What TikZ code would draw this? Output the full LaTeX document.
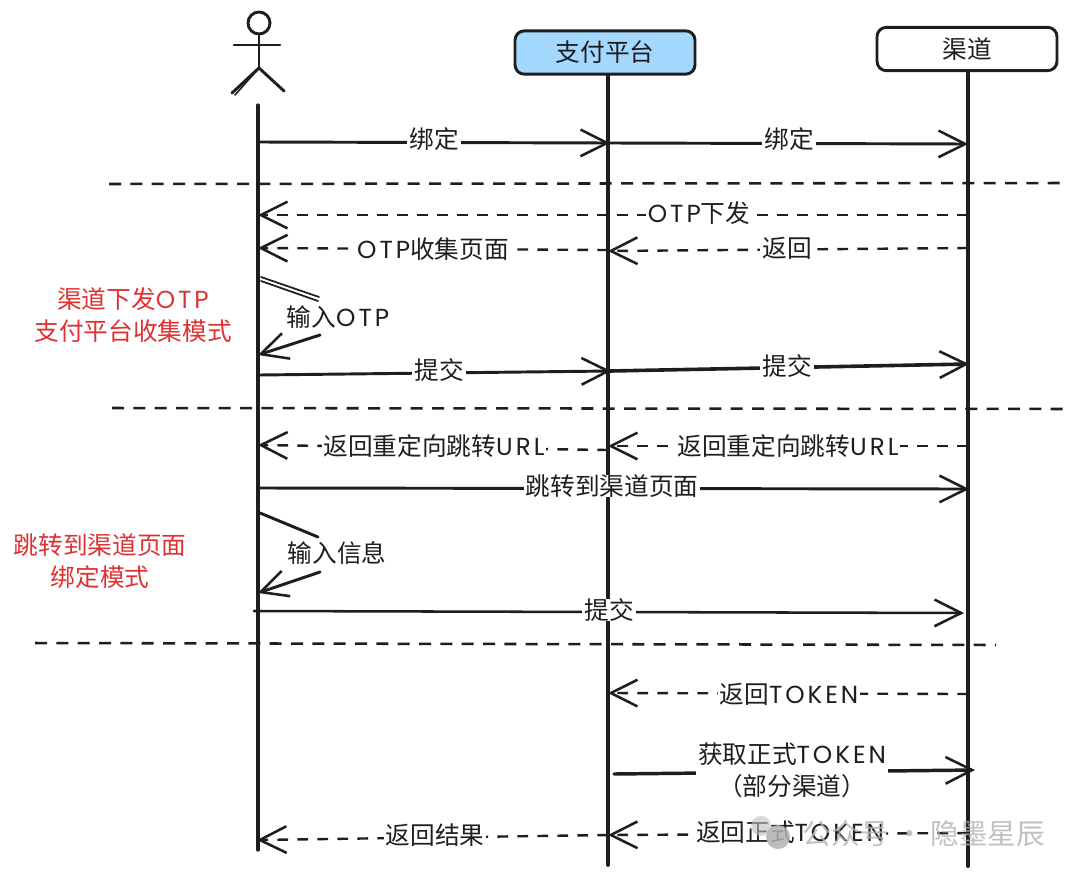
\documentclass[tikz,border=0pt]{standalone}
\usepackage{fontspec}
\setmainfont{Noto Sans CJK SC}
\newfontfamily\lat[LetterSpace=12]{Poppins}
\usetikzlibrary{arrows.meta}
\newcommand{\hw}[1]{{\lat #1}}
\definecolor{ink}{HTML}{1E1E1E}
\definecolor{redlab}{HTML}{E03131}
\definecolor{paybox}{HTML}{A5D8FF}
\tikzset{
  x=0.75pt,y=-0.75pt,
  every node/.style={font=\fontsize{18.5}{24}\selectfont,text=ink,inner sep=0pt,align=center},
  sk/.style={draw=ink,line width=2.2pt,line cap=round,line join=round},
  life/.style={sk,line width=2.8pt},
  barb/.style={-{Straight Barb[length=20pt,width=20pt,line width=1.9pt]}},
  msg/.style={sk,barb},
  ret/.style={sk,barb,line width=1.8pt,dash pattern=on 8pt off 7pt,line cap=butt},
  sep/.style={draw=ink,line width=1.9pt,dash pattern=on 9pt off 7pt},
  lab/.style={fill=white,inner xsep=1.5pt,inner ysep=0pt},
  actorbox/.style={draw=ink,line width=2.2pt,rounded corners=7pt,minimum width=135pt,minimum height=32.5pt},
  note/.style={text=redlab},
  wmtext/.style={text=black!30,font=\fontsize{21.5}{24}\selectfont},
}
\begin{document}
\begin{tikzpicture}
\useasboundingbox (0,0) rectangle (1080,878);
\fill[white] (0,0) rectangle (1080,878);

% separators
\coordinate (s1a) at (109,184); \coordinate (s1b) at (1064,183);
\coordinate (s2a) at (112,408); \coordinate (s2b) at (1071,409);
\coordinate (s3a) at (35,643);  \coordinate (s3b) at (996,645);
\draw[sep] (s1a) -- (s1b);
\draw[sep] (s2a) -- (s2b);
\draw[sep] (s3a) -- (s3b);

% actor
\node[circle,draw=ink,line width=2.2pt,minimum size=16.5pt] (head) at (259,23) {};
\coordinate (hip) at (259,68);
\coordinate (armL) at (234,45); \coordinate (armR) at (280,45);
\coordinate (legL) at (232,93); \coordinate (legLb) at (235,95); \coordinate (legR) at (284,91);
\draw[sk] (head.south) -- (hip);
\draw[sk] (armL) -- (armR);
\draw[sk] (legL) -- (hip) -- (legR);
\draw[sk,line width=1.2pt] (legLb) -- (hip);

% participants
\node[actorbox,fill=paybox] (pay) at (605,52.5) {支付平台};
\node[actorbox,fill=white] (chan) at (967,49) {渠道};

% lifelines
\coordinate (uT) at (258,105); \coordinate (uB) at (258,850);
\coordinate (pB) at (608,865);
\coordinate (cM) at (968,268); \coordinate (cB) at (968,866);
\draw[life,line width=2.4pt] (uT) -- (uB);
\draw[life] (pay.south -| pB) -- (pB);
\draw[life,line width=3.4pt] (chan.south -| cB) -- (cM);
\draw[life,line width=3pt] (cM) -- (cB);

% message endpoints
\coordinate (a1) at (258,142); \coordinate (b1) at (610,143);
\coordinate (a2) at (610,143); \coordinate (b2) at (968,144);
\coordinate (a3) at (968,215); \coordinate (b3) at (258,215);
\coordinate (a4) at (608,250); \coordinate (b4) at (258,248);
\coordinate (a5) at (968,248); \coordinate (b5) at (608,251);
\coordinate (a6) at (259,375); \coordinate (b6) at (611,371);
\coordinate (a7) at (610,371); \coordinate (b7) at (969,364);
\coordinate (a8) at (608,450); \coordinate (b8) at (258,445);
\coordinate (a9) at (968,446); \coordinate (b9) at (608,446);
\coordinate (a10) at (258,488); \coordinate (b10) at (969,489);
\coordinate (a11) at (254,611); \coordinate (b11) at (964,613);
\coordinate (a12) at (968,694); \coordinate (b12) at (608,693);
\coordinate (a13) at (614,774); \coordinate (b13) at (975,770);
\coordinate (a14) at (968,833); \coordinate (b14) at (608,835);
\coordinate (a15) at (608,835); \coordinate (b15) at (257,840);

\draw[msg,line width=2.2pt] (a1) -- (b1);
\draw[msg] (a2) -- (b2);
\draw[ret] (a3) -- (b3);
\draw[ret] (a4) -- (b4);
\draw[ret] (a5) -- (b5);
\draw[msg] (a6) -- (b6);
\draw[msg,line width=2.7pt] (a7) -- (b7);
\draw[ret] (a8) -- (b8);
\draw[ret] (a9) -- (b9);
\draw[msg] (a10) -- (b10);
\draw[msg,line width=1.9pt] (a11) -- (b11);
\draw[ret] (a12) -- (b12);
\draw[msg,line width=2.6pt] (a13) -- (b13);
\draw[ret] (a14) -- (b14);
\draw[ret] (a15) -- (b15);

% self messages
\coordinate (o1) at (261,277); \coordinate (o1b) at (261,281);
\coordinate (o2) at (319,297); \coordinate (o2b) at (318,301);
\coordinate (o3) at (320,335); \coordinate (o4) at (258,355);
\draw[sk,line width=1.3pt] (o1) -- (o2);
\draw[sk,line width=1.3pt] (o1b) -- (o2b);
\draw[msg] (o3) -- (o4);
\coordinate (i1) at (260,513); \coordinate (i2) at (318,537);
\coordinate (i3) at (320,572); \coordinate (i4) at (258,593);
\draw[sk] (i1) -- (i2);
\draw[msg] (i3) -- (i4);

% labels
\node[lab] (l1) at (434,139) {绑定};
\node[lab] (l2) at (789,139) {绑定};
\node[lab] (l3) at (699,213) {\hw{OTP}下发};
\node[lab] (l4) at (433,249) {\hw{OTP}收集页面};
\node[lab] (l5) at (787,248) {返回};
\node (l6) at (338,317) {输入\hw{OTP}};
\node[lab] (l7) at (439,370) {提交};
\node[lab] (l8) at (787,366) {提交};
\node[lab] (l9) at (434,446) {返回重定向跳转\hw{URL}};
\node[lab] (l10) at (788,446) {返回重定向跳转\hw{URL}};
\node[lab] (l11) at (612,486) {跳转到渠道页面};
\node (l12) at (337,553) {输入信息};
\node[lab] (l13) at (609,610) {提交};
\node[lab] (l14) at (789,694) {返回\hw{TOKEN}};
\node[lab] (l15) at (792,770) {获取正式\hw{TOKEN}\\（部分渠道）};
\node[lab] (l16) at (435,835) {返回结果};
\node[lab] (l17) at (790,832) {返回正式\hw{TOKEN}};

% notes
\node[note] (n1) at (133,315) {渠道下发\hw{OTP}\\支付平台收集模式};
\node[note] (n2) at (100,561) {跳转到渠道页面\\绑定模式};

% watermark
\fill[black!25,opacity=.6] (761,826) circle[radius=10];
\fill[black!30,opacity=.85] (778,837) circle[radius=12];
\node[wmtext,opacity=.8] (wm) at (924,834) {公众号 · 隐墨星辰};
\end{tikzpicture}
\end{document}
